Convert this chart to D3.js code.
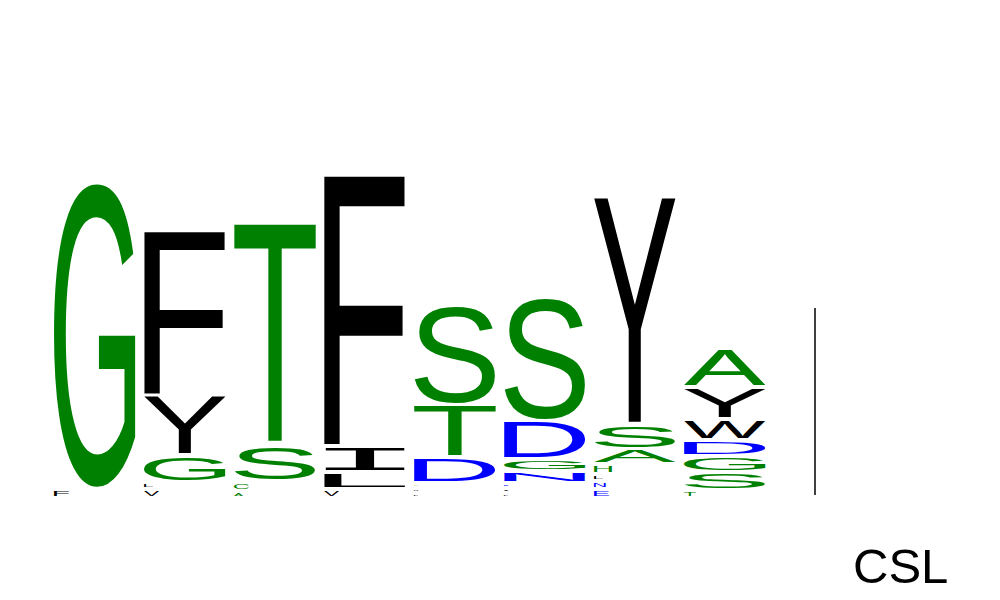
<!DOCTYPE html>
<html>
<head>
<meta charset="utf-8">
<script src="https://cdn.jsdelivr.net/npm/d3@7"></script>
<style>
  body { margin: 0; background: #fff; }
</style>
</head>
<body>
<script>
// Sequence logo data: letters of each position, bottom to top, heights in bits
var positions = [1, 2, 3, 4, 5, 6, 7, 8];

var pos1Letters = ["F", "G"];
var pos1Bits = [0.027, 1.612];

var pos2Letters = ["V", "L", "G", "Y", "F"];
var pos2Bits = [0.027, 0.016, 0.122, 0.298, 0.862];

var pos3Letters = ["A", "C", "S", "T"];
var pos3Bits = [0.016, 0.027, 0.170, 1.170];

var pos4Letters = ["V", "L", "I", "F"];
var pos4Bits = [0.027, 0.069, 0.117, 1.426];

var pos5Letters = ["L", "M", "A", "D", "T", "S"];
var pos5Bits = [0.005, 0.005, 0.005, 0.112, 0.261, 0.516];

var pos6Letters = ["L", "I", "E", "N", "G", "D", "S"];
var pos6Bits = [0.005, 0.005, 0.005, 0.043, 0.043, 0.181, 0.644];

var pos7Letters = ["E", "N", "L", "H", "A", "S", "Y"];
var pos7Bits = [0.027, 0.021, 0.016, 0.032, 0.059, 0.112, 1.191];

var pos8Letters = ["T", "S", "G", "D", "W", "Y", "A"];
var pos8Bits = [0.021, 0.074, 0.064, 0.064, 0.090, 0.149, 0.181];

var scaleBarBits = 1;
var footerLabel = "CSL";

var columns = [
  [pos1Letters, pos1Bits], [pos2Letters, pos2Bits], [pos3Letters, pos3Bits],
  [pos4Letters, pos4Bits], [pos5Letters, pos5Bits], [pos6Letters, pos6Bits],
  [pos7Letters, pos7Bits], [pos8Letters, pos8Bits]
];

// Letter colours
var green = "#008000", blue = "#0000ff", black = "#000000";
var letterColor = {
  G: green, S: green, T: green, A: green, C: green, H: green, Q: green,
  D: blue, N: blue, E: blue, K: blue, R: blue,
  F: black, Y: black, I: black, L: black, W: black, V: black, M: black, P: black
};

var width = 1000, height = 600;
var baseline = 496;
var gap = 4;
var fontFamily = "'Liberation Sans', Arial, sans-serif";
// the logo's I has bars top and bottom, like a monospace I
var monoFamily = "'Liberation Mono', 'DejaVu Sans Mono', monospace";
function fontFor(ch) { return ch === "I" ? monoFamily : fontFamily; }

var svg = d3.select("body")
  .append("svg")
  .attr("width", width)
  .attr("height", height);

var x = d3.scaleBand()
  .domain(positions)
  .range([54, 766])
  .paddingInner(8 / 90)
  .paddingOuter(0);

// bits -> pixels of letter height
var h = d3.scaleLinear()
  .domain([0, 1])
  .range([0, 188]);

// Measure tight glyph bounds so every letter fills its box
var ctx = document.createElement("canvas").getContext("2d");
var metrics = {};
function glyph(ch) {
  if (!metrics[ch]) {
    ctx.font = "100px " + fontFor(ch);
    var m = ctx.measureText(ch);
    metrics[ch] = {
      left: m.actualBoundingBoxLeft,
      w: m.actualBoundingBoxLeft + m.actualBoundingBoxRight,
      asc: m.actualBoundingBoxAscent,
      h: m.actualBoundingBoxAscent + m.actualBoundingBoxDescent
    };
  }
  return metrics[ch];
}

var logo = svg.append("g");

columns.forEach(function(col, i) {
  var letters = col[0], bits = col[1];
  var x0 = x(positions[i]);
  var bottom = baseline;
  var g = logo.append("g").attr("class", "column");
  letters.forEach(function(ch, j) {
    var bh = h(bits[j]);
    var top = bottom - bh;
    // tiny letters are drawn narrower
    var bw = bh >= 8 ? x.bandwidth() : Math.min(x.bandwidth(), Math.max(4, bh * 3));
    var m = glyph(ch);
    var sx = bw / m.w, sy = bh / m.h;
    g.append("text")
      .attr("font-family", fontFor(ch))
      .attr("font-size", 100)
      .attr("fill", letterColor[ch])
      .attr("transform", "translate(" + x0 + "," + top + ") scale(" + sx + "," + sy + ") translate(" + m.left + "," + m.asc + ")")
      .text(ch);
    bottom = top - gap;
  });
});

// Scale bar
svg.append("line")
  .attr("x1", 815).attr("x2", 815)
  .attr("y1", baseline - h(scaleBarBits))
  .attr("y2", baseline - 1)
  .attr("stroke", "#000")
  .attr("stroke-width", 1.5);

svg.append("text")
  .attr("x", 853)
  .attr("y", 583)
  .attr("font-family", fontFamily)
  .attr("font-size", 49)
  .attr("fill", "#000")
  .text(footerLabel);
</script>
</body>
</html>
